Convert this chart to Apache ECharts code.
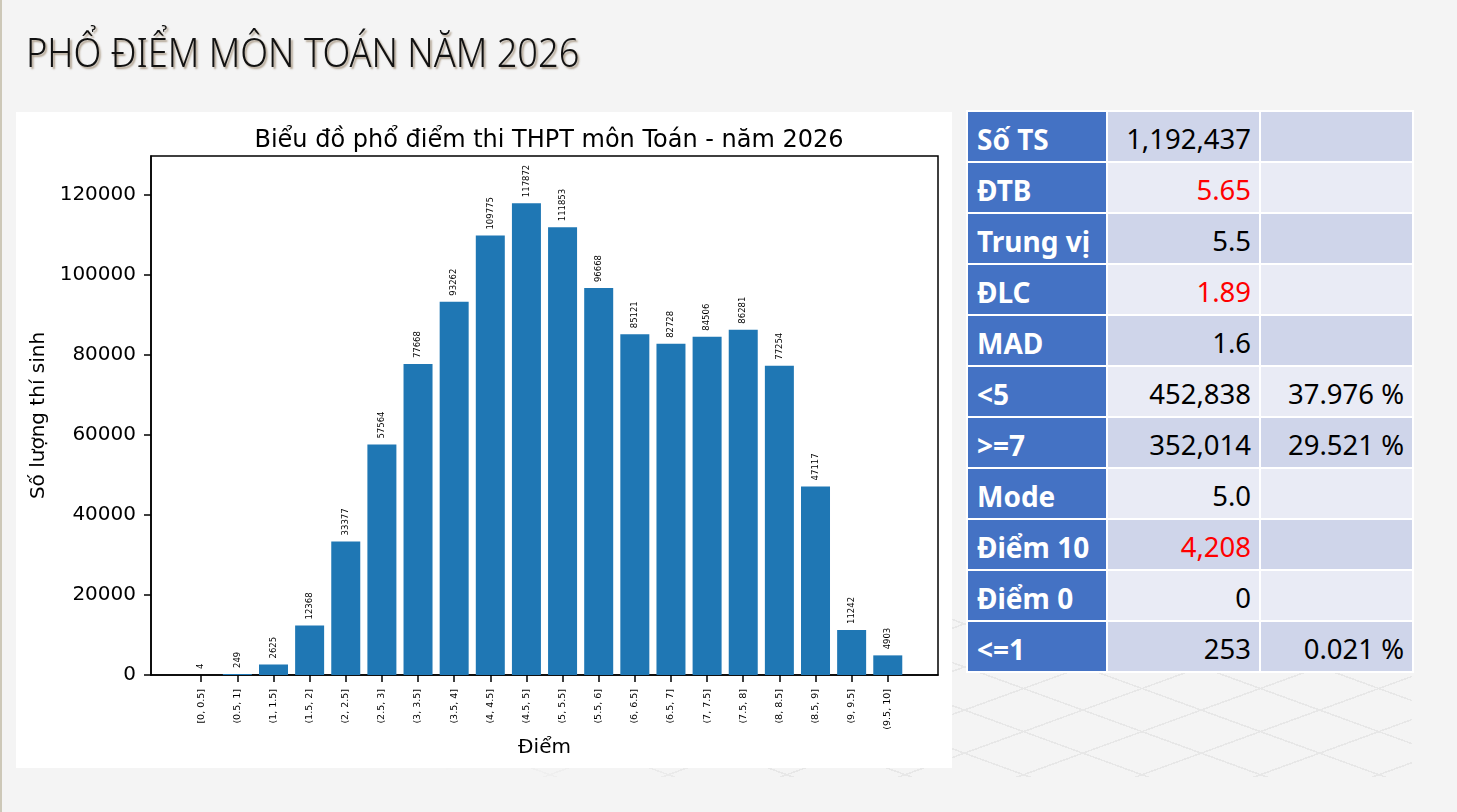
<!DOCTYPE html>
<html>
<head>
<meta charset="utf-8">
<script src="https://cdn.jsdelivr.net/npm/echarts/dist/echarts.min.js"></script>
<style>
  html, body {
    margin: 0;
    padding: 0;
  }
  body {
    width: 1457px;
    height: 812px;
    background: #f4f4f4;
    position: relative;
    overflow: hidden;
  }
  .edge {
    position: absolute;
    left: 0;
    top: 0;
    width: 2px;
    height: 812px;
    background: #cdc8b8;
  }
  .floor {
    position: absolute;
    left: 440px;
    top: 600px;
    width: 972px;
    height: 177px;
    background:
      repeating-linear-gradient(160deg, transparent 0 39px, #e7e7e7 39px 40.5px),
      repeating-linear-gradient(20deg, transparent 0 39px, #e7e7e7 39px 40.5px);
    -webkit-mask-image: linear-gradient(to right, transparent 0, #000 30%);
    mask-image: linear-gradient(to right, transparent 0, #000 30%);
  }
  .page-title {
    position: absolute;
    left: 26px;
    top: 24px;
    font-family: "Noto Sans", sans-serif;
    font-weight: 300;
    font-size: 40px;
    color: #111;
    white-space: nowrap;
    transform: scaleX(0.905);
    transform-origin: left top;
    text-shadow: 2px 2px 2px rgba(90, 60, 20, 0.45);
  }
  #chart {
    position: absolute;
    left: 16px;
    top: 112px;
    width: 936px;
    height: 656px;
    background: #fff;
  }
  .stats {
    position: absolute;
    left: 966px;
    top: 110px;
    border-collapse: separate;
    border-spacing: 2px;
    background: #fff;
    font-family: "Noto Sans", sans-serif;
    font-size: 27.5px;
  }
  .stats td {
    height: 49px;
    padding: 4px 8px 0 8px;
    box-sizing: border-box;
    white-space: nowrap;
  }
  .stats td.name {
    width: 138px;
    background: #4472c4;
    color: #fff;
    font-weight: bold;
    font-size: 28px;
    padding-left: 9px;
  }
  .stats td.val {
    width: 151px;
    text-align: right;
    color: #000;
  }
  .stats tr:nth-child(odd) td.val { background: #cfd5ea; }
  .stats tr:nth-child(even) td.val { background: #e9ebf5; }
  .stats td.red { color: #ff0000; }
</style>
</head>
<body>
<div class="edge"></div>
<div class="floor"></div>
<div class="page-title">PHỔ ĐIỂM MÔN TOÁN NĂM 2026</div>
<div id="chart"></div>
<table class="stats" id="stats"></table>
<script>
  // khoảng điểm và số thí sinh
  const categories = ['[0, 0.5]', '(0.5, 1]', '(1, 1.5]', '(1.5, 2]', '(2, 2.5]', '(2.5, 3]', '(3, 3.5]',
    '(3.5, 4]', '(4, 4.5]', '(4.5, 5]', '(5, 5.5]', '(5.5, 6]', '(6, 6.5]', '(6.5, 7]', '(7, 7.5]',
    '(7.5, 8]', '(8, 8.5]', '(8.5, 9]', '(9, 9.5]', '(9.5, 10]'];
  const counts = [4, 249, 2625, 12368, 33377, 57564, 77668, 93262, 109775, 117872, 111853,
    96668, 85121, 82728, 84506, 86281, 77254, 47117, 11242, 4903];
  const yTicks = [0, 20000, 40000, 60000, 80000, 100000, 120000];

  // bảng thống kê
  const statNames = ['Số TS', 'ĐTB', 'Trung vị', 'ĐLC', 'MAD', '<5', '>=7', 'Mode', 'Điểm 10', 'Điểm 0', '<=1'];
  const statValues = ['1,192,437', '5.65', '5.5', '1.89', '1.6', '452,838', '352,014', '5.0', '4,208', '0', '253'];
  const statPercents = ['', '', '', '', '', '37.976 %', '29.521 %', '', '', '', '0.021 %'];
  const statRed = [false, true, false, true, false, false, false, false, true, false, false];

  const table = document.getElementById('stats')
  statNames.forEach((name, i) => {
    const tr = document.createElement('tr')
    const td1 = document.createElement('td')
    td1.className = 'name'
    td1.textContent = name
    const td2 = document.createElement('td')
    td2.className = 'val' + (statRed[i] ? ' red' : '')
    td2.textContent = statValues[i]
    const td3 = document.createElement('td')
    td3.className = 'val'
    td3.textContent = statPercents[i]
    tr.appendChild(td1)
    tr.appendChild(td2)
    tr.appendChild(td3)
    table.appendChild(tr)
  })

  const chart = echarts.init(document.getElementById('chart'))
  const tickIdx = categories.map((c, i) => i)
  const font = 'DejaVu Sans'
  const option = {
    animation: false,
    title: {
      text: 'Biểu đồ phổ điểm thi THPT môn Toán - năm 2026',
      left: 528,
      top: 12,
      textAlign: 'center',
      textStyle: { fontFamily: font, fontSize: 24, fontWeight: 'normal', color: '#000' }
    },
    grid: {
      left: 135,
      right: 14,
      top: 44,
      bottom: 93,
      show: true,
      borderColor: '#000',
      borderWidth: 1.5,
      containLabel: false
    },
    xAxis: {
      type: 'value',
      min: -1.39,
      max: counts.length - 1 + 1.39,
      name: 'Điểm',
      nameLocation: 'middle',
      nameGap: 60,
      nameTextStyle: { fontFamily: font, fontSize: 20, color: '#000' },
      axisLine: { onZero: false, lineStyle: { color: '#000', width: 1.5 } },
      axisTick: { customValues: tickIdx, length: 7, lineStyle: { color: '#000', width: 1.5 } },
      axisLabel: {
        customValues: tickIdx,
        rotate: 90,
        margin: 14,
        fontFamily: font,
        fontSize: 9.5,
        color: '#000',
        formatter: (v) => categories[v]
      },
      splitLine: { show: false }
    },
    yAxis: {
      type: 'value',
      min: 0,
      max: Math.max(...counts) * 1.1,
      name: 'Số lượng thí sinh',
      nameLocation: 'middle',
      nameGap: 100,
      nameTextStyle: { fontFamily: font, fontSize: 20, color: '#000' },
      axisLine: { show: true, onZero: false, lineStyle: { color: '#000', width: 1.5 } },
      axisTick: { show: true, customValues: yTicks, length: 7, lineStyle: { color: '#000', width: 1.5 } },
      axisLabel: {
        customValues: yTicks,
        margin: 15,
        fontFamily: font,
        fontSize: 20,
        color: '#000',
        formatter: (v) => String(v)
      },
      splitLine: { show: false }
    },
    series: [{
      type: 'bar',
      barWidth: 29,
      data: counts.map((v, i) => [i, v]),
      itemStyle: { color: '#1f77b4' },
      label: {
        show: true,
        position: 'top',
        rotate: 90,
        align: 'left',
        verticalAlign: 'middle',
        distance: 6,
        fontFamily: font,
        fontSize: 8.5,
        color: '#000',
        formatter: (p) => p.value[1]
      }
    }]
  }
  chart.setOption(option)
</script>
</body>
</html>
